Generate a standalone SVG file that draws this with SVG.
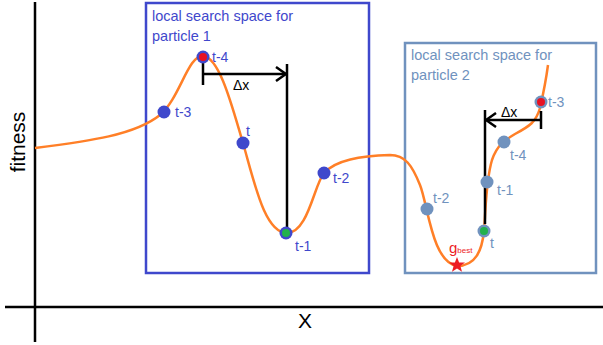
<svg xmlns="http://www.w3.org/2000/svg" width="603" height="345" viewBox="0 0 603 345">
<style>
.axis{stroke:#000;stroke-width:2.5;fill:none}
.curve{stroke:#FF7F27;stroke-width:2.5;fill:none}
.box1{stroke:#3F48CC;stroke-width:2.5;fill:none}
.box2{stroke:#7092BE;stroke-width:2.5;fill:none}
.dx{stroke:#000;stroke-width:2.5;fill:none}
.d1{fill:#3F48CC}
.d2{fill:#7092BE}
.t1{font-family:"Liberation Sans",Arial,sans-serif;font-size:14px;fill:#3F48CC}
.t2{font-family:"Liberation Sans",Arial,sans-serif;font-size:14px;fill:#7092BE}
.h{font-size:14.5px}
.tk{font-family:"Liberation Sans",Arial,sans-serif;font-size:14px;fill:#000}
.big{font-family:"Liberation Sans",Arial,sans-serif;font-size:21px;fill:#000}
</style>
<defs>
<marker id="chev" viewBox="0 0 12 16" refX="11" refY="8" markerWidth="12" markerHeight="16" markerUnits="userSpaceOnUse" orient="auto-start-reverse">
<path d="M1,1 L11,8 L1,15" fill="none" stroke="#000" stroke-width="2.5"/>
</marker>
</defs>
<g id="axes">
<line class="axis" x1="35" y1="2" x2="35" y2="342"/>
<line class="axis" x1="5" y1="307" x2="603" y2="307"/>
<text class="big" x="0" y="0" text-anchor="middle" transform="translate(25,142) rotate(-90)">fitness</text>
<text class="big" x="305" y="328" text-anchor="middle">X</text>
</g>
<g id="box1">
<rect class="box1" x="146" y="3" width="223" height="270"/>
<text class="t1 h" x="152" y="21">local search space for</text>
<text class="t1 h" x="152" y="41">particle 1</text>
</g>
<g id="box2">
<rect class="box2" x="405" y="43" width="191" height="230"/>
<text class="t2 h" x="411" y="60">local search space for</text>
<text class="t2 h" x="411" y="80">particle 2</text>
</g>
<g id="curve">
<path class="curve" d="M35,148 C90,141 135,135 160,115 C180,98 188,55 203,56 C220,57 233,110 243,143 C255,185 265,233 287,233 C308,233 314,185 324,173 C336,160 360,156 390,155 C405,155 412,165 420,185 C428,205 432,262 457,266 C476,266 482,250 484,231 C486,205 486,180 492,160 C497,145 505,140 515,134 C530,126 536,122 540,108 C543,95 546,80 548,65"/>
</g>
<g id="connectors">
<line class="dx" x1="203" y1="63" x2="203" y2="85"/>
<line class="dx" x1="203" y1="74" x2="286" y2="74" marker-end="url(#chev)"/>
<line class="dx" x1="287" y1="64" x2="287" y2="233"/>
<line class="dx" x1="541" y1="111" x2="541" y2="129"/>
<line class="dx" x1="541" y1="120" x2="486" y2="120" marker-end="url(#chev)"/>
<line class="dx" x1="485" y1="110" x2="485" y2="224"/>
<text class="tk" x="233" y="90">Δx</text>
<text class="tk" x="501" y="117">Δx</text>
</g>
<g id="p1-t-3"><circle class="d1" cx="164" cy="112" r="6.5"/><text class="t1" x="175" y="117">t-3</text></g>
<g id="p1-t-4"><circle class="d1" cx="203" cy="57" r="6.5"/><circle cx="203" cy="57" r="4" fill="#E81123"/><text class="t1" x="212" y="62">t-4</text></g>
<g id="p1-t"><circle class="d1" cx="243" cy="143" r="6.5"/><text class="t1" x="246" y="136">t</text></g>
<g id="p1-t-1"><circle class="d1" cx="286" cy="233" r="6.5"/><circle cx="286" cy="233" r="4" fill="#22B14C"/><text class="t1" x="295" y="251">t-1</text></g>
<g id="p1-t-2"><circle class="d1" cx="324" cy="173" r="6.5"/><text class="t1" x="333" y="183">t-2</text></g>
<g id="p2-t-3"><circle class="d2" cx="541" cy="102" r="6.5"/><circle cx="541" cy="102" r="4" fill="#E81123"/><text class="t2" x="548" y="107">t-3</text></g>
<g id="p2-t-4"><circle class="d2" cx="504" cy="142" r="6.5"/><text class="t2" x="510" y="160">t-4</text></g>
<g id="p2-t-1"><circle class="d2" cx="487" cy="182" r="6.5"/><text class="t2" x="497" y="195">t-1</text></g>
<g id="p2-t"><circle class="d2" cx="484" cy="231" r="6.5"/><circle cx="484" cy="231" r="4" fill="#22B14C"/><text class="t2" x="490" y="248">t</text></g>
<g id="p2-t-2"><circle class="d2" cx="427" cy="209" r="6.5"/><text class="t2" x="433" y="203">t-2</text></g>
<g id="gbest">
<polygon fill="#ED1C24" points="457,257 459.1,262.4 465,262.5 460.4,266.1 462,271.7 457,268.5 452,271.7 453.6,266.1 449,262.5 454.9,262.4"/>
<text x="449" y="253" font-family="Liberation Sans,Arial,sans-serif" font-size="15" fill="#ED1C24">g<tspan font-size="8">best</tspan></text>
</g>
</svg>
